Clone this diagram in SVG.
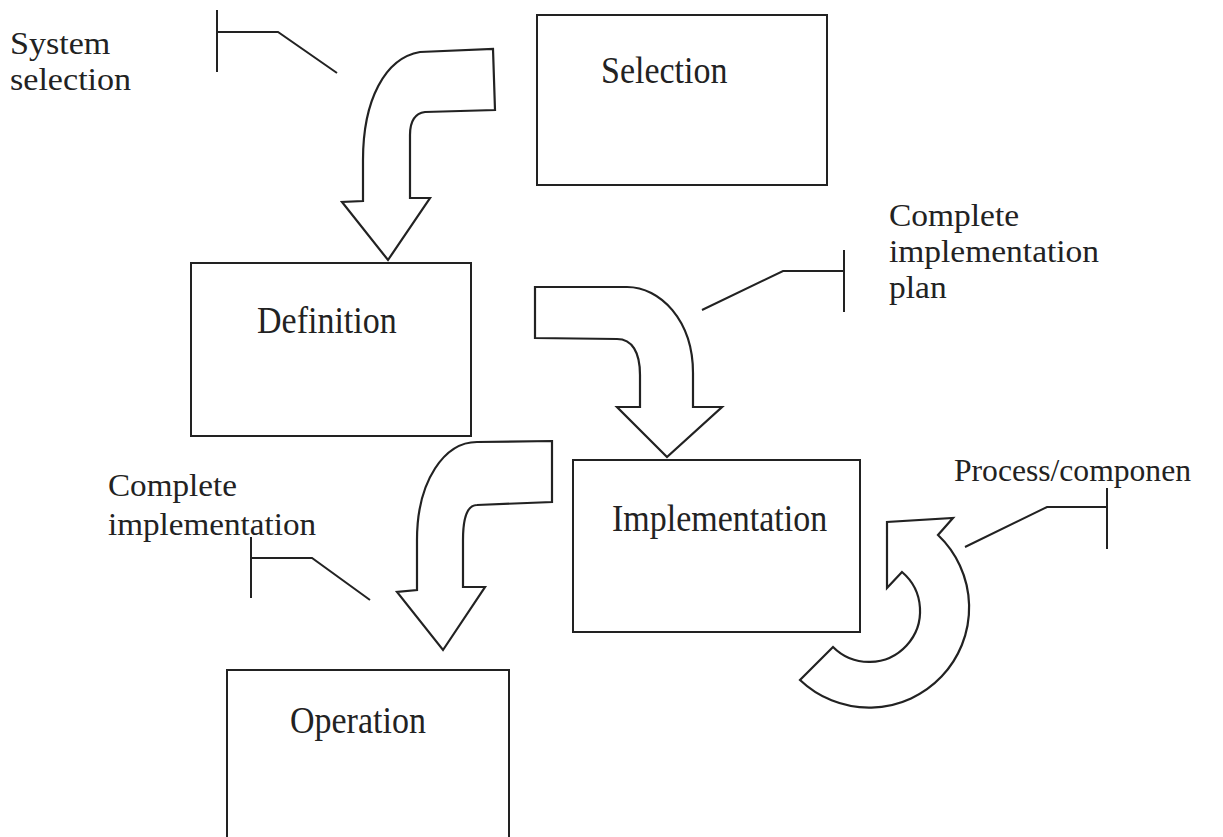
<svg xmlns="http://www.w3.org/2000/svg" width="1223" height="837" viewBox="0 0 1223 837">
<style>
.box{fill:none;stroke:#222;stroke-width:2}
.arr{fill:#fff;stroke:#222;stroke-width:2.2;stroke-linejoin:miter}
.call{fill:none;stroke:#222;stroke-width:2}
text{font-family:"Liberation Serif","Times New Roman",serif;font-size:33px;fill:#222}
.lbl{font-size:31px}
</style>
<rect width="1223" height="837" fill="#fff"/>
<g id="selection">
<rect class="box" x="537" y="15" width="290" height="170"/>
<text transform="translate(601,83) scale(1.03,1.12)">Selection</text>
</g>
<g id="definition">
<rect class="box" x="191" y="263" width="280" height="173"/>
<text transform="translate(257,333) scale(1.03,1.12)">Definition</text>
</g>
<g id="implementation">
<rect class="box" x="573" y="460" width="287" height="172"/>
<text transform="translate(612,531) scale(1.03,1.12)">Implementation</text>
</g>
<g id="operation">
<rect class="box" x="227" y="670" width="282" height="180"/>
<text transform="translate(290,733) scale(1.03,1.12)">Operation</text>
</g>
<g id="labels">
<text class="lbl" transform="translate(10,54) scale(1.1,1)"><tspan x="0" y="0">System</tspan><tspan x="0" y="36">selection</tspan></text>
<text class="lbl" transform="translate(889,226) scale(1.08,1)"><tspan x="0" y="0">Complete</tspan><tspan x="0" y="36">implementation</tspan><tspan x="0" y="72">plan</tspan></text>
<text class="lbl" transform="translate(108,496) scale(1.07,1)"><tspan x="0" y="0">Complete</tspan><tspan x="0" y="39">implementation</tspan></text>
<text class="lbl" transform="translate(954,481) scale(1.02,1)">Process/componen</text>
</g>
<g id="connectors">
<path class="arr" d="M493,49 L495,110 L425,112 Q410,114 410,135 L410,198 L430,198 L388,260 L342,202 L363,201 L363,160 C363,100 385,58 420,52 Z"/>
<path class="arr" d="M535,287 L627,287 C660,287 693,320 693,373 L693,407 L722,407 L667,457 L617,407 L640,407 L640,375 C640,352 632,339 617,339 L535,338 Z"/>
<path class="arr" d="M552,441 L552,502 L477,505 C467,505 463,520 463,540 L463,587 L485,587 L443,650 L397,592 L417,590 L417,540 C417,480 445,442 477,442 Z"/>
<path class="arr" d="M887,588 L887,522 L953,518 L938,535 A100,100 0 1 1 800,680 L833,647 A51,51 0 1 0 902,572 Z"/>
<path class="call" d="M217,10 L217,72 M217,32 L278,32 L337,73"/>
<path class="call" d="M702,310 L783,271 L844,271 M844,250 L844,312"/>
<path class="call" d="M251,537 L251,598 M251,558 L312,558 L370,600"/>
<path class="call" d="M965,547 L1047,507 L1107,507 M1107,488 L1107,549"/>
</g>
</svg>
